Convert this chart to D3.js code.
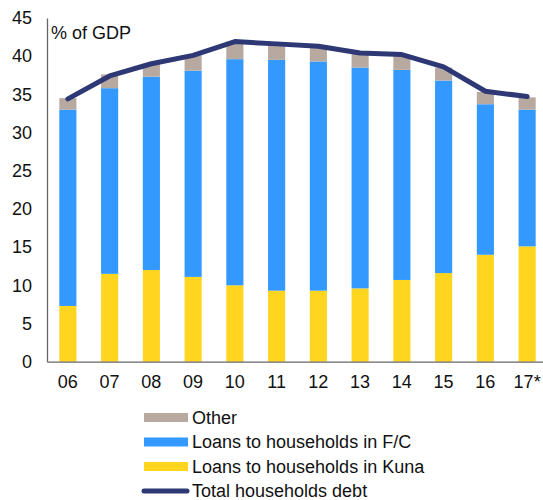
<!DOCTYPE html>
<html><head><meta charset="utf-8">
<script src="https://cdn.jsdelivr.net/npm/d3@7"></script>
<style>body{margin:0;background:#fff}svg{display:block;font-family:"Liberation Sans",Arial,sans-serif}</style>
</head><body><svg id="c" width="543" height="500"></svg>
<script>
const categories = ["06","07","08","09","10","11","12","13","14","15","16","17*"];
const kuna = [7.3,11.5,12.0,11.1,10.0,9.3,9.3,9.6,10.7,11.6,14.0,15.1];
const fc = [25.7,24.3,25.3,27.0,29.6,30.2,30.0,28.9,27.5,25.2,19.7,17.9];
const other = [1.5,1.8,1.7,2.0,2.3,2.1,2.0,1.8,1.9,1.7,1.6,1.6];
const total = [34.4,37.4,39.0,40.1,41.9,41.6,41.3,40.4,40.2,38.6,35.4,34.7];
const yTicks = [0,5,10,15,20,25,30,35,40,45];
const seriesNames = ["Loans to households in Kuna","Loans to households in F/C","Other"];
const colors = ["#FFD520","#3399FF","#B8A9A0"];
const lineColor = "#2E3875";
const FS = "18px";

const svg = d3.select("#c");
const x0 = 47, x1 = 548, yTop = 17.9, yBot = 361.7;
const x = d3.scaleBand().domain(categories).range([x0,x1]).paddingInner(0.59).paddingOuter(0.295);
const y = d3.scaleLinear().domain([0,45]).range([yBot,yTop]);

const rows = categories.map((c,i)=>({cat:c,k:kuna[i],f:fc[i],o:other[i]}));
const stack = d3.stack().keys(["k","f","o"])(rows);

svg.append("g").selectAll("g").data(stack).join("g")
  .attr("fill",(d,i)=>colors[i])
  .selectAll("rect").data(d=>d).join("rect")
  .attr("x",d=>x(d.data.cat)).attr("width",x.bandwidth())
  .attr("y",d=>y(d[1])).attr("height",d=>y(d[0])-y(d[1]));

// axes
const yAxis = svg.append("g").attr("transform",`translate(${x0},0)`)
  .call(d3.axisLeft(y).tickValues(yTicks).tickSize(0).tickPadding(15));
yAxis.select(".domain").attr("stroke","#666").attr("stroke-width",1.3);
yAxis.selectAll("text").attr("font-size",FS).attr("fill","#111").attr("font-family","Liberation Sans, Arial, sans-serif");

const xAxis = svg.append("g").attr("transform",`translate(0,${yBot})`)
  .call(d3.axisBottom(x).tickSize(0).tickPadding(14));
xAxis.select(".domain").attr("stroke","#666").attr("stroke-width",1.3);
xAxis.selectAll("text").attr("font-size",FS).attr("fill","#111").attr("font-family","Liberation Sans, Arial, sans-serif");

// line
const line = d3.line().x((d,i)=>x(categories[i])+x.bandwidth()/2).y(d=>y(d));
svg.append("path").datum(total).attr("d",line).attr("fill","none")
  .attr("stroke",lineColor).attr("stroke-width",5).attr("stroke-linecap","round").attr("stroke-linejoin","round");

svg.append("text").attr("x",51).attr("y",39).attr("font-size",FS).attr("fill","#111").text("% of GDP");

// legend
const legend = [
  {name:"Other",type:"rect",color:colors[2]},
  {name:"Loans to households in F/C",type:"rect",color:colors[1]},
  {name:"Loans to households in Kuna",type:"rect",color:colors[0]},
  {name:"Total households debt",type:"line",color:lineColor}
];
const lg = svg.append("g");
legend.forEach((d,i)=>{
  const cy = 417.5 + i*24.5;
  if(d.type==="rect") lg.append("rect").attr("x",144).attr("y",cy-4.5).attr("width",44).attr("height",9).attr("fill",d.color);
  else lg.append("line").attr("x1",144).attr("x2",187).attr("y1",cy).attr("y2",cy).attr("stroke",d.color).attr("stroke-width",5).attr("stroke-linecap","round");
  lg.append("text").attr("x",192).attr("y",cy).attr("dy","0.35em").attr("font-size",FS).attr("fill","#111").text(d.name);
});
</script></body></html>
